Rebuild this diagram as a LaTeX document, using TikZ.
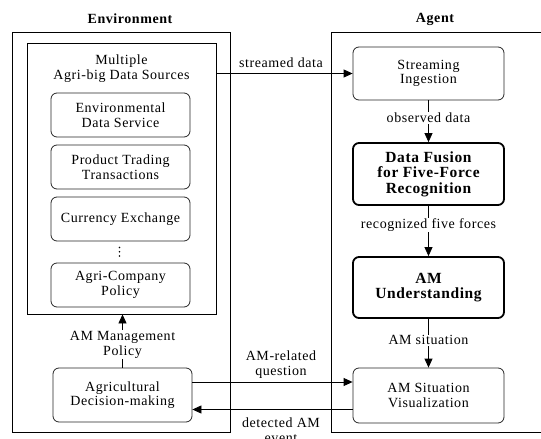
\documentclass[tikz,border=0pt]{standalone}
\usepackage{fontspec}
\setmainfont[LetterSpace=4]{Liberation Serif}
\usetikzlibrary{arrows.meta}

\tikzset{
  frame/.style={draw=black, line width=0.8pt},
  srcbox/.style={draw=black!85, line width=0.8pt, rounded corners=6pt, align=center,
    minimum width=139pt, minimum height=44pt, inner sep=1pt,
    font=\fontsize{14}{14.5}\selectfont},
  agbox/.style={draw=black!85, line width=0.8pt, rounded corners=6pt, align=center,
    minimum width=151pt, inner sep=1pt, font=\fontsize{14}{14.5}\selectfont},
  keybox/.style={agbox, line width=1.8pt, draw=black, font=\fontsize{15.5}{15.5}\selectfont\bfseries},
  title/.style={font=\fontsize{14}{16}\selectfont\bfseries},
  lbl/.style={font=\fontsize{14}{15}\selectfont, align=center, inner sep=1pt},
  flowlbl/.style={lbl, fill=white},
  dot/.style={circle, fill=black, inner sep=0pt, minimum size=1.8pt},
  arr/.style={draw=black, line width=0.8pt, -{Triangle[length=9pt,width=8pt]}},
}

\begin{document}
\begin{tikzpicture}[x=1pt, y=-1pt]
\useasboundingbox (0,0) rectangle (541,439);

% Titles
\node[title] (envtitle) at (130,19) {Environment};
\node[title] (agtitle) at (435,19) {Agent};

% Environment side
\node[frame, minimum width=218pt, minimum height=400pt, inner sep=0pt] (env) at (121,232) {};
\node[frame, minimum width=189pt, minimum height=271pt, inner sep=0pt] (src) at (121.5,178.5) {};
\node[lbl] (srctitle) at (121.5,69) {Multiple\\Agri-big Data Sources};
\node[srcbox] (envdata) at (120.5,115) {Environmental\\Data Service};
\node[srcbox] (trade) at (120.5,167) {Product Trading\\Transactions};
\node[srcbox] (curr) at (120.5,219) {Currency Exchange};
% vertical ellipsis between the listed sources
\node[dot] (dot1) at (119.5,247.5) {};
\node[dot] (dot2) at (119.5,251.8) {};
\node[dot] (dot3) at (119.5,256) {};
\node[srcbox] (policy) at (120.5,285) {Agri-Company\\Policy};
\node[srcbox, minimum height=54pt] (decision) at (122.5,395) {Agricultural\\Decision-making};

% Agent side (frame runs past the right edge)
\coordinate (agtl) at (541,32);
\coordinate (agbl) at (541,432);
\draw[frame] (agtl) -- (331,32) -- (331,432) -- (agbl);
\node[agbox, minimum height=53pt] (stream) at (428.5,73.5) {Streaming\\Ingestion};
\node[keybox, minimum height=62pt] (fusion) at (428.5,174) {Data Fusion\\for Five-Force\\Recognition};
\node[keybox, minimum height=61pt] (amu) at (428.5,287.5) {AM\\Understanding};
\node[agbox, minimum height=55pt] (viz) at (428.5,395.5) {AM Situation\\Visualization};

% Connectors
\draw[arr] (src.east |- stream.west) -- (stream.west);
\node[lbl] (streamlbl) at (281,63) {streamed data};

\draw[arr] (stream) -- node[flowlbl, pos=0.42] (obslbl) {observed data} (fusion);
\draw[arr] (fusion) -- node[flowlbl, pos=0.38] (reclbl) {recognized five forces} (amu);
\draw[arr] (amu) -- node[flowlbl, pos=0.44] (sitlbl) {AM situation} (viz);

\draw[arr] (decision.north) -- node[flowlbl, pos=0.43] (mgmtlbl) {AM Management\\Policy} (decision.north |- src.south);

\draw[arr] ([yshift=13pt]decision.east) -- ([yshift=13pt]decision.east -| viz.west);
\node[lbl] (qlbl) at (281,365) {AM-related\\question};
\draw[arr] ([yshift=-14pt]viz.west) -- ([yshift=-14pt]viz.west -| decision.east);
\node[lbl] (evlbl) at (281,430) {detected AM\\event};
\end{tikzpicture}
\end{document}
